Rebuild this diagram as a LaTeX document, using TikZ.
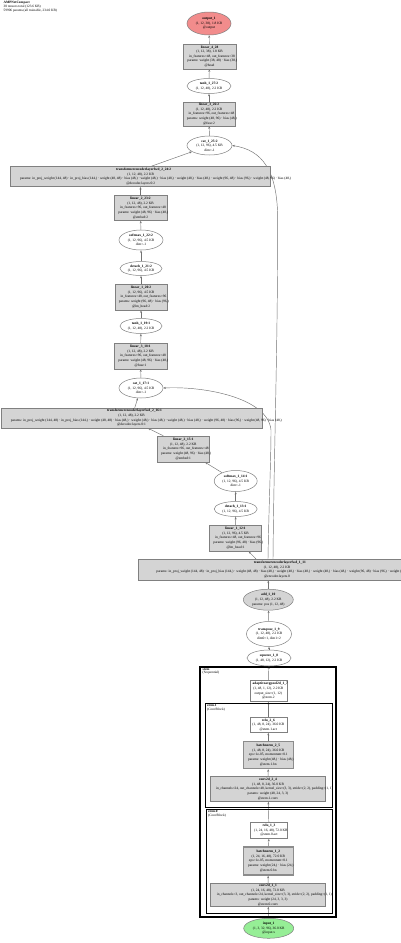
\documentclass[tikz,border=0pt]{standalone}
\usepackage{fontspec}
\setmainfont{Liberation Serif}
\usetikzlibrary{shapes.geometric,arrows.meta,calc,backgrounds}
\tikzset{
 txt/.style={align=center,inner sep=0pt,font=\fontsize{3.5}{4.6}\selectfont},
 gbox/.style={rectangle,draw=black!50,fill=black!17,line width=0.5pt,inner sep=0pt},
 wbox/.style={rectangle,draw=black!50,fill=white,line width=0.5pt,inner sep=0pt},
 bnbox/.style={rectangle,draw=black!45,fill=black!17,line width=1.4pt,inner sep=0pt},
 ell/.style={ellipse,draw=black!50,fill=white,line width=0.5pt,inner sep=0pt},
 gell/.style={ell,fill=black!17},
 outell/.style={ell,fill={rgb,255:red,242;green,140;blue,140}},
 inell/.style={ell,fill={rgb,255:red,150;green,238;blue,150}},
 edge/.style={draw=black!55,line width=0.45pt,-{Stealth[length=2.6pt,width=2pt]}},
 cluster/.style={draw=black,line width=1.2pt},
 clab/.style={align=left,inner sep=0pt,font=\fontsize{3.4}{3.8}\selectfont,anchor=north west},
}
\newcommand\nd[7]{%
 \node[#1,minimum width=#5pt,minimum height=#6pt] (#2) at (#3,#4) {};
 \node[txt] (#2-t) at (#2.center) {#7};}
\newcommand\gvl[1]{\makebox[0.89\width][l]{#1}}
\newcommand\tfparams{\gvl{params: in\_proj\_weight (144, 48) · in\_proj\_bias (144,) · weight (48, 48) · bias (48,) · weight (48,) · bias (48,) · weight (48,) · bias (48,) · weight (96, 48) · bias (96,) · weight (48, 96) · bias (48,)}}
\begin{document}
\begin{tikzpicture}[x=1pt,y=-1pt]
\begin{scope}[on background layer]
\fill[white] (0,0) rectangle (400,943);
\end{scope}
\useasboundingbox (0,0) rectangle (400,943);
% header
\node[clab,font=\fontsize{3.4}{3.6}\selectfont] (hdr) at (3.5,1.5) {\textbf{AMPNetCompact}\\30 tensors total (123.6 KB)\\59906 params (all trainable, 234.0 KB)};
% clusters
\draw[cluster] (200,667) rectangle (336,917);
\draw[cluster,line width=1pt] (205,703) rectangle (332,807);
\draw[cluster,line width=1pt] (206,809) rectangle (332,913);
\node[clab] (lstem) at (202.5,668) {\textbf{stem}\\(Sequential)};
\node[clab] (lstem1) at (207,704.5) {\textbf{stem.1}\\(ConvBlock)};
\node[clab] (lstem0) at (208,810.5) {\textbf{stem.0}\\(ConvBlock)};
% nodes
\nd{outell}{out}{209}{23.5}{44}{23}{\textbf{output\_1}\\(1, 12, 38), 1.8 KB\\@output}
\nd{gbox}{l28}{209.5}{56.5}{53}{25}{\textbf{linear\_4\_28}\\(1, 12, 38), 1.8 KB\\\gvl{in\_features=48, out\_features=38}\\\gvl{params: weight (38, 48) · bias (38,)}\\@head}
\nd{ell}{th27}{209}{86}{44}{15}{\textbf{tanh\_1\_27:2}\\(1, 12, 48), 2.2 KB}
\nd{gbox}{l26}{209}{114}{52}{24}{\textbf{linear\_3\_26:2}\\(1, 12, 48), 2.2 KB\\\gvl{in\_features=96, out\_features=48}\\\gvl{params: weight (48, 96) · bias (48,)}\\@fuse:2}
\nd{ell}{cat25}{209.5}{145.5}{45}{19}{\textbf{cat\_1\_25:2}\\(1, 12, 96), 4.5 KB\\dim=-1}
\nd{gbox}{t24}{140.7}{176.7}{260}{20}{\gvl{\textbf{transformerencoderlayerfwd\_2\_24:2}}\\(1, 12, 48), 2.2 KB\\\tfparams\\@decoder.layers.0:2}
\nd{gbox}{l23}{140.5}{208}{53}{25}{\textbf{linear\_2\_23:2}\\(1, 12, 48), 2.2 KB\\\gvl{in\_features=96, out\_features=48}\\\gvl{params: weight (48, 96) · bias (48,)}\\@embed:2}
\nd{ell}{s22}{141}{240}{44}{20}{\textbf{softmax\_1\_22:2}\\(1, 12, 96), 4.5 KB\\dim=-1}
\nd{ell}{d21}{141}{268.5}{42}{14}{\textbf{detach\_1\_21:2}\\(1, 12, 96), 4.5 KB}
\nd{gbox}{l20}{141}{297}{52}{26}{\textbf{linear\_1\_20:2}\\(1, 12, 96), 4.5 KB\\\gvl{in\_features=48, out\_features=96}\\\gvl{params: weight (96, 48) · bias (96,)}\\@lm\_head:2}
\nd{ell}{th19}{141}{326}{42}{15}{\textbf{tanh\_1\_19:1}\\(1, 12, 48), 2.2 KB}
\nd{gbox}{l18}{140.5}{356}{53}{26}{\textbf{linear\_3\_18:1}\\(1, 12, 48), 2.2 KB\\\gvl{in\_features=96, out\_features=48}\\\gvl{params: weight (48, 96) · bias (48,)}\\@fuse:1}
\nd{ell}{cat17}{141}{388}{44}{20}{\textbf{cat\_1\_17:1}\\(1, 12, 96), 4.5 KB\\dim=-1}
\nd{gbox}{t16}{131.5}{418}{261}{20}{\gvl{\textbf{transformerencoderlayerfwd\_2\_16:1}}\\(1, 12, 48), 2.2 KB\\\tfparams\\@decoder.layers.0:1}
\nd{gbox}{l15}{183.3}{449}{52}{26}{\textbf{linear\_2\_15:1}\\(1, 12, 48), 2.2 KB\\\gvl{in\_features=96, out\_features=48}\\\gvl{params: weight (48, 96) · bias (48,)}\\@embed:1}
\nd{ell}{s14}{235.7}{481}{43}{21}{\textbf{softmax\_1\_14:1}\\(1, 12, 96), 4.5 KB\\dim=-1}
\nd{ell}{d13}{235.7}{509}{43}{15}{\textbf{detach\_1\_13:1}\\(1, 12, 96), 4.5 KB}
\nd{gbox}{l12}{235.5}{538}{52}{26}{\textbf{linear\_1\_12:1}\\(1, 12, 96), 4.5 KB\\\gvl{in\_features=48, out\_features=96}\\\gvl{params: weight (96, 48) · bias (96,)}\\@lm\_head:1}
\nd{gbox}{t11}{277}{569.7}{278}{21}{\gvl{\textbf{transformerencoderlayerfwd\_1\_11}}\\(1, 12, 48), 2.2 KB\\\tfparams\\@encoder.layers.0}
\nd{gell}{add}{268.3}{599.7}{50}{21}{\textbf{add\_1\_10}\\(1, 12, 48), 2.2 KB\\params: pos (1, 12, 48)}
\nd{ell}{tr}{269}{634}{45}{25}{\textbf{transpose\_1\_9}\\(1, 12, 48), 2.2 KB\\dim0=1, dim1=2}
\nd{ell}{sq}{269}{658}{44}{16}{\textbf{squeeze\_1\_8}\\(1, 48, 12), 2.2 KB}
\nd{wbox}{pool}{268.3}{691}{37}{21}{\gvl{\textbf{adaptiveavgpool2d\_1\_7}}\\(1, 48, 1, 12), 2.2 KB\\output\_size=(1, 12)\\@stem.2}
\nd{wbox}{r26}{268.3}{725}{37}{15}{\textbf{relu\_2\_6}\\(1, 48, 8, 24), 36.0 KB\\@stem.1.act}
\nd{bnbox}{bn25}{268.3}{755}{50}{27}{\textbf{batchnorm\_2\_5}\\(1, 48, 8, 24), 36.0 KB\\eps=1e-05, momentum=0.1\\\gvl{params: weight (48,) · bias (48,)}\\@stem.1.bn}
\nd{gbox}{c24}{268}{789}{115}{25}{\textbf{conv2d\_2\_4}\\(1, 48, 8, 24), 36.0 KB\\\gvl{in\_channels=24, out\_channels=48, kernel\_size=(3, 3), stride=(2, 2), padding=(1, 1)}\\params: weight (48, 24, 3, 3)\\@stem.1.conv}
\nd{wbox}{r13}{269}{830.5}{37}{16}{\textbf{relu\_1\_3}\\\gvl{(1, 24, 16, 48), 72.0 KB}\\@stem.0.act}
\nd{bnbox}{bn12}{268.3}{861}{50}{28}{\textbf{batchnorm\_1\_2}\\(1, 24, 16, 48), 72.0 KB\\eps=1e-05, momentum=0.1\\\gvl{params: weight (24,) · bias (24,)}\\@stem.0.bn}
\nd{gbox}{c11}{268}{895}{115}{23}{\textbf{conv2d\_1\_1}\\(1, 24, 16, 48), 72.0 KB\\\gvl{in\_channels=3, out\_channels=24, kernel\_size=(3, 3), stride=(2, 2), padding=(1, 1)}\\params: weight (24, 3, 3, 3)\\@stem.0.conv}
\nd{inell}{inp}{268.7}{928.3}{50}{20}{\textbf{input\_1}\\(1, 3, 32, 96), 36.0 KB\\@input.x}
% edges
\begin{scope}[on background layer]
\draw[edge] (inp) -- (c11);
\draw[edge] (c11) -- (bn12);
\draw[edge] (bn12) -- (r13);
\draw[edge] (r13) -- (c24);
\draw[edge] (c24) -- (bn25);
\draw[edge] (bn25) -- (r26);
\draw[edge] (r26) -- (pool);
\draw[edge] (pool) -- (sq);
\draw[edge] (sq) -- (tr);
\draw[edge] (tr) -- (add);
\draw[edge] (add) -- (add |- t11.south);
\draw[edge] ($(t11.north)+(-21,0)$) -- ($(l12.south)+(13,0)$);
\draw[edge] (l12) -- (d13);
\draw[edge] (d13) -- (s14);
\draw[edge] (s14) -- (l15);
\draw[edge] ($(l15.north)+(-20,0)$) -- ($(t16.south)+(16.5,0)$);
\draw[edge] (t16) -- (cat17);
\draw[edge] ($(t11.north)+(-9,0)$) .. controls (269,500) and (271,460) .. (271,430) .. controls (268,398) and (205,386) .. (cat17.east);
\draw[edge] (cat17) -- (l18);
\draw[edge] (l18) -- (th19);
\draw[edge] (th19) -- (l20);
\draw[edge] (l20) -- (d21);
\draw[edge] (d21) -- (s22);
\draw[edge] (s22) -- (l23);
\draw[edge] (l23) -- (l23 |- t24.south);
\draw[edge] ($(t24.north)+(10,0)$) -- (cat25);
\draw[edge] ($(t11.north)+(-4,0)$) .. controls (274,450) and (277.7,350) .. (277.7,220) .. controls (277.7,170) and (262,150) .. (cat25.east);
\draw[edge] (cat25) -- (l26);
\draw[edge] (l26) -- (th27);
\draw[edge] (th27) -- (l28);
\draw[edge] (l28) -- (out);
\end{scope}
\end{tikzpicture}
\end{document}
